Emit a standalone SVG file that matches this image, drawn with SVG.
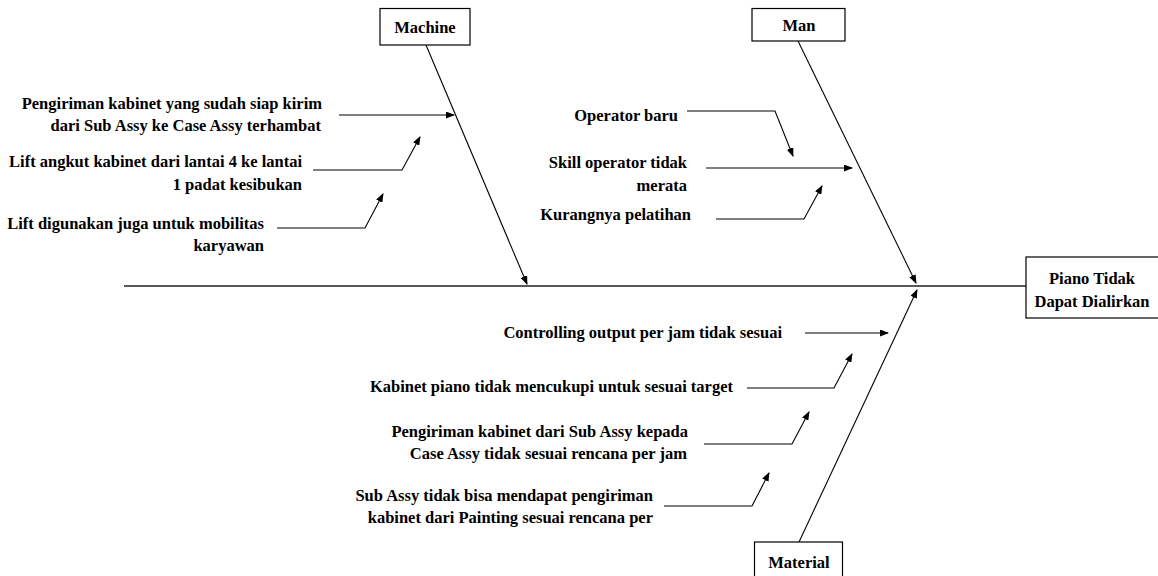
<svg xmlns="http://www.w3.org/2000/svg" width="1158" height="576" viewBox="0 0 1158 576">
  <style>
    .lbl { font-family: "Liberation Serif", "Times New Roman", serif; font-weight: bold; font-size: 16.5px; fill: #000; }
    .end { text-anchor: end; }
    .mid { text-anchor: middle; }
    .box { fill: #fff; stroke: #000; stroke-width: 1.2; }
    .ln { fill: none; stroke: #000; stroke-width: 1.1; }
    .arr { marker-end: url(#head); }
    .spine { fill: none; stroke: #222; stroke-width: 1.6; }
  </style>
  <defs>
    <marker id="head" markerUnits="userSpaceOnUse" markerWidth="9" markerHeight="7" refX="8" refY="3.5" orient="auto">
      <path d="M0,0 L9,3.5 L0,7 z" fill="#000"/>
    </marker>
  </defs>

  <rect width="1158" height="576" fill="#fff"/>

  <!-- connectors: spine, category bones and cause arrows -->
  <g id="connectors">
    <path class="spine" d="M124 286 H1026"/>
    <path class="ln arr" d="M426 45 L527 284"/>
    <path class="ln arr" d="M798 41 L916 283"/>
    <path class="ln arr" d="M799 542 L917 290"/>

    <path class="ln arr" d="M339 115 H454"/>
    <path class="ln arr" d="M313 170 H402 L420 137"/>
    <path class="ln arr" d="M277 228 H365 L383 194"/>

    <path class="ln arr" d="M687 111 H775 L793 156"/>
    <path class="ln arr" d="M706 168 H852"/>
    <path class="ln arr" d="M716 219 H804 L822 186"/>

    <path class="ln arr" d="M805 333 H888"/>
    <path class="ln arr" d="M747 388 H834 L852 354"/>
    <path class="ln arr" d="M704 444 H792 L809 412"/>
    <path class="ln arr" d="M664 506 H752 L769 473"/>
  </g>

  <!-- category heads -->
  <g id="machine">
    <rect class="box" x="380" y="8.5" width="90" height="36.5"/>
    <text class="lbl mid" x="425" y="33">Machine</text>
  </g>
  <g id="man">
    <rect class="box" x="752" y="8.5" width="93" height="32.5"/>
    <text class="lbl mid" x="799" y="31">Man</text>
  </g>
  <g id="material">
    <rect class="box" x="754.5" y="542" width="88" height="40"/>
    <text class="lbl mid" x="799" y="568">Material</text>
  </g>
  <g id="effect">
    <rect class="box" x="1026" y="257" width="134" height="61"/>
    <text class="lbl mid" x="1092" y="284">Piano Tidak</text>
    <text class="lbl mid" x="1092" y="307">Dapat Dialirkan</text>
  </g>

  <!-- causes: Machine -->
  <g id="machine-causes">
    <text class="lbl end" x="322" y="109">Pengiriman kabinet yang sudah siap kirim</text>
    <text class="lbl end" x="321" y="131">dari Sub Assy ke Case Assy terhambat</text>
    <text class="lbl end" x="302" y="167">Lift angkut kabinet dari lantai 4 ke lantai</text>
    <text class="lbl end" x="302" y="190">1 padat kesibukan</text>
    <text class="lbl end" x="264" y="229">Lift digunakan juga untuk mobilitas</text>
    <text class="lbl end" x="264" y="251">karyawan</text>
  </g>

  <!-- causes: Man -->
  <g id="man-causes">
    <text class="lbl end" x="678" y="121">Operator baru</text>
    <text class="lbl end" x="687" y="168">Skill operator tidak</text>
    <text class="lbl end" x="687" y="191">merata</text>
    <text class="lbl end" x="691" y="220">Kurangnya pelatihan</text>
  </g>

  <!-- causes: Material -->
  <g id="material-causes">
    <text class="lbl end" x="782" y="338">Controlling output per jam tidak sesuai</text>
    <text class="lbl end" x="733" y="392">Kabinet piano tidak mencukupi untuk sesuai target</text>
    <text class="lbl end" x="688" y="437">Pengiriman kabinet dari Sub Assy kepada</text>
    <text class="lbl end" x="687" y="459">Case Assy tidak sesuai rencana per jam</text>
    <text class="lbl end" x="653" y="501">Sub Assy tidak bisa mendapat pengiriman</text>
    <text class="lbl end" x="653" y="523">kabinet dari Painting sesuai rencana per</text>
  </g>
</svg>
